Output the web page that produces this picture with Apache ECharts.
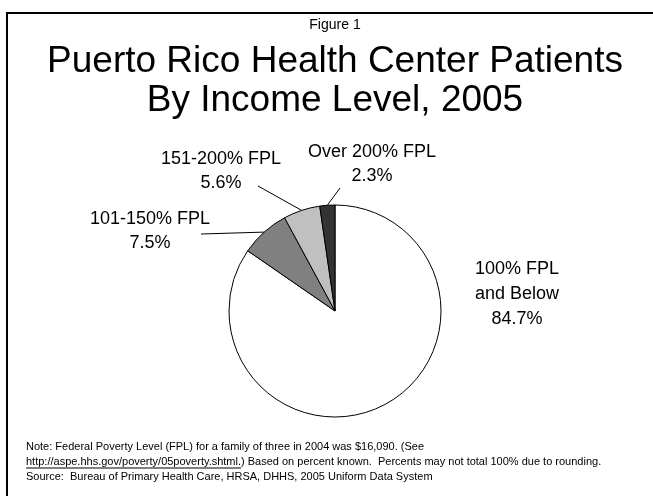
<!DOCTYPE html>
<html>
<head>
<meta charset="utf-8">
<script src="https://cdn.jsdelivr.net/npm/echarts@6/dist/echarts.min.js"></script>
<style>
  html, body { margin: 0; padding: 0; background: #fff; }
  #chart { width: 653px; height: 496px; }
</style>
</head>
<body>
<div id="chart"></div>
<script>
// data
const categories = ["100% FPL\nand Below", "101-150% FPL", "151-200% FPL", "Over 200% FPL"];
const percents = [84.7, 7.5, 5.6, 2.3];
const sliceColors = ["#ffffff", "#808080", "#c0c0c0", "#333333"];
// where each label sits (centre of the text block) and where its leader line ends
const labelSpots = [[517, 294], [150, 231], [221, 171], [372, 164]];
const lineEnds = [null, [201, 234], [258, 186], [340, 188]];

const font = "Liberation Sans, Arial, sans-serif";
const noteFont = "11px " + font;
const url = "http://aspe.hhs.gov/poverty/05poverty.shtml.";

// width of the url, for the underline
let ctx = document.createElement("canvas").getContext("2d");
ctx.font = noteFont;
let urlW = ctx.measureText(url).width;

let myChart = echarts.init(document.getElementById("chart"));
myChart.setOption({
  backgroundColor: "#fff",
  animation: false,
  series: [
    {
      type: "pie",
      center: [335, 311],
      radius: 106,
      startAngle: 90,
      clockwise: true,
      silent: true,
      itemStyle: { borderColor: "#000", borderWidth: 1 },
      label: {
        show: true,
        position: "outside",
        fontFamily: font,
        fontSize: 18,
        lineHeight: 24,
        color: "#000",
        align: "center",
        formatter: (p) => p.name + "\n" + p.value.toFixed(1) + "%"
      },
      labelLine: { show: true, length: 0, length2: 0, lineStyle: { color: "#000", width: 1 } },
      labelLayout: (p) => {
        const s = labelSpots[p.dataIndex];
        const out = { x: s[0], y: s[1], align: "center", verticalAlign: "middle" };
        const e = lineEnds[p.dataIndex];
        if (e && p.labelLinePoints) {
          out.labelLinePoints = [p.labelLinePoints[0], e];
        }
        return out;
      },
      data: categories.map((c, i) => ({
        name: c,
        value: percents[i],
        itemStyle: { color: sliceColors[i] },
        label: i === 0 ? { lineHeight: 25 } : {},
        labelLine: { show: i !== 0 }
      }))
    }
  ],
  graphic: [
    { type: "rect", shape: { x: 7, y: 13, width: 700, height: 600 }, style: { fill: null, stroke: "#000", lineWidth: 2 }, silent: true },
    { type: "text", x: 335, y: 25, style: { text: "Figure 1", font: "14px " + font, fill: "#000", textAlign: "center", textVerticalAlign: "middle" } },
    { type: "text", x: 335, y: 62, style: { text: "Puerto Rico Health Center Patients", font: "37px " + font, fill: "#000", textAlign: "center", textVerticalAlign: "middle" } },
    { type: "text", x: 335, y: 101, style: { text: "By Income Level, 2005", font: "37px " + font, fill: "#000", textAlign: "center", textVerticalAlign: "middle" } },
    { type: "text", x: 26, y: 447, style: { text: "Note: Federal Poverty Level (FPL) for a family of three in 2004 was $16,090. (See", font: noteFont, fill: "#000", textVerticalAlign: "middle" } },
    { type: "text", x: 26, y: 462, style: { text: url + ") Based on percent known.  Percents may not total 100% due to rounding.", font: noteFont, fill: "#000", textVerticalAlign: "middle" } },
    { type: "line", shape: { x1: 26, y1: 468, x2: 26 + urlW, y2: 468 }, style: { stroke: "#000", lineWidth: 1 } },
    { type: "text", x: 26, y: 477, style: { text: "Source:  Bureau of Primary Health Care, HRSA, DHHS, 2005 Uniform Data System", font: noteFont, fill: "#000", textVerticalAlign: "middle" } }
  ]
});
</script>
</body>
</html>
